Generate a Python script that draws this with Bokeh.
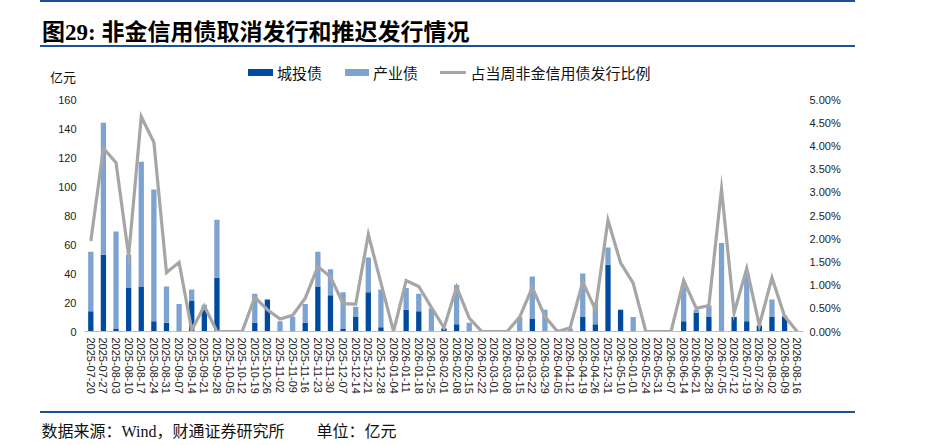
from bokeh.plotting import figure
from bokeh.layouts import column
from bokeh.models import (ColumnDataSource, FactorRange, Range1d, LinearAxis, FixedTicker,
                          NumeralTickFormatter, Div)
from bokeh.embed import file_html
from bokeh.resources import INLINE

# ---------------- data ----------------
dates = [
    "2025-07-20", "2025-07-27", "2025-08-03", "2025-08-10", "2025-08-17", "2025-08-24",
    "2025-08-31", "2025-09-07", "2025-09-14", "2025-09-21", "2025-09-28", "2025-10-05",
    "2025-10-12", "2025-10-19", "2025-10-26", "2025-11-02", "2025-11-09", "2025-11-16",
    "2025-11-23", "2025-11-30", "2025-12-07", "2025-12-14", "2025-12-21", "2025-12-28",
    "2026-01-04", "2026-01-11", "2026-01-18", "2026-01-25", "2026-02-01", "2026-02-08",
    "2026-02-15", "2026-02-22", "2026-03-01", "2026-03-08", "2026-03-15", "2026-03-22",
    "2026-03-29", "2026-04-05", "2026-04-12", "2026-04-19", "2026-04-26", "2025-12-31",
    "2026-05-10", "2026-01-01", "2026-05-24", "2026-05-31", "2026-06-07", "2026-06-14",
    "2026-06-21", "2026-06-28", "2026-07-05", "2026-07-12", "2026-07-19", "2026-07-26",
    "2026-08-02", "2026-08-09", "2026-08-16",
]
# 城投债 (亿元)
urban = [14, 53, 2, 30, 31, 7, 6, 0, 21, 17, 37, 0, 0, 6, 22, 0, 0, 6, 31, 25,
         2, 10, 27, 3, 0, 15, 14, 0, 2, 5, 0, 0, 0, 0, 0, 9, 0, 0, 0, 10,
         5, 46, 15, 0, 0, 0, 0, 7, 13, 10, 0, 10, 7, 4, 10, 10, 0]
# 产业债 (亿元)
industry = [41, 91, 67, 23, 86, 91, 25, 19, 8, 1.5, 40, 0, 0, 20, 0, 7, 10, 13, 24, 18,
            25, 7, 24, 26, 0, 15, 12, 16, 0.5, 27, 6, 0, 0, 0, 10, 29, 15, 0, 2, 30,
            15, 12, 0, 10, 0, 0, 0, 24, 2, 8, 61, 0, 33, 0.5, 12, 1, 0]
# 占当周非金信用债发行比例 (%)
ratio_pct = [1.95, 3.95, 3.64, 1.63, 4.63, 4.08, 1.27, 1.49, 0.03, 0.55, 0.0, 0.0, 0.0,
             0.74, 0.47, 0.27, 0.35, 0.72, 1.40, 1.18, 0.60, 0.59, 2.09, 1.05, 0.0,
             1.10, 0.97, 0.52, 0.08, 0.96, 0.29, 0.0, 0.0, 0.0, 0.31, 0.95, 0.32, 0.0,
             0.08, 1.07, 0.47, 2.40, 1.48, 1.04, 0.0, 0.0, 0.0, 1.10, 0.50, 0.56, 3.07,
             0.40, 1.36, 0.13, 1.16, 0.33, 0.0]
left_ticks = [0, 20, 40, 60, 80, 100, 120, 140, 160]
right_ticks = [0.0, 0.005, 0.01, 0.015, 0.02, 0.025, 0.03, 0.035, 0.04, 0.045, 0.05]

title_prefix = "图"
title_number = "29: "
title_text = "非金信用债取消发行和推迟发行情况"
unit_label = "亿元"
series_names = ["城投债", "产业债", "占当周非金信用债发行比例"]
source_parts = ["数据来源：", "Wind", "，财通证券研究所"]
unit_text = "单位：亿元"

DARK = "#004B9F"
LIGHT = "#7DA3D1"
GREY = "#A6A6A6"
RULE = "#1A4F9C"
CJK = "'Noto Sans CJK SC'"
SERIF = "'Liberation Serif'"
W = 929


def box(left, top, width, height, color):
    return (f'<div style="position:absolute;left:{left}px;top:{top}px;width:{width}px;'
            f'height:{height}px;background:{color};"></div>')


def txt(left, center, size, inner, weight="normal", color="#111111"):
    top = center - size * 0.6
    return (f'<div style="position:absolute;left:{left}px;top:{top:.1f}px;font-family:{CJK};'
            f'font-size:{size}px;line-height:1.2;font-weight:{weight};color:{color};'
            f'white-space:nowrap;">{inner}</div>')


def panel(h, parts):
    html = (f'<div style="position:relative;width:{W}px;height:{h}px;">'
            + "".join(parts) + '</div>')
    return Div(text=html, width=W, height=h, margin=0)


# ---------------- header ----------------
head = panel(90, [
    box(40, 0, 815, 2, RULE),
    txt(42, 30.5, 23, f'{title_prefix}<span style="font-family:{SERIF};">{title_number}</span>{title_text}',
        weight="bold", color="#000000"),
    box(40, 45, 815, 2, RULE),
    txt(50, 76.5, 13, unit_label),
    box(248, 68.5, 24.5, 7.5, DARK),
    txt(277, 72.5, 15, series_names[0]),
    box(344.5, 68.5, 24.5, 7.5, LIGHT),
    txt(373, 72.5, 15, series_names[1]),
    box(440, 71.3, 26, 3, GREY),
    txt(470.5, 72.5, 15, series_names[2]),
])

# ---------------- main chart ----------------
source = ColumnDataSource(dict(x=dates, urban=urban, industry=industry,
                               ratio=[v / 100.0 for v in ratio_pct]))

p = figure(x_range=FactorRange(factors=dates), y_range=Range1d(0, 160),
           width=W, height=318, output_backend="svg", toolbar_location=None,
           min_border_left=84, min_border_right=126, min_border_top=9, min_border_bottom=77)
p.extra_y_ranges = {"pct": Range1d(0, 0.05)}
p.outline_line_color = None
p.xgrid.grid_line_color = None
p.ygrid.grid_line_color = None
p.background_fill_color = "white"
p.border_fill_color = "white"

p.vbar_stack(["urban", "industry"], x="x", width=0.42, fill_color=[DARK, LIGHT],
             line_color=None, source=source)
p.line(x="x", y="ratio", y_range_name="pct", line_color=GREY, line_width=3.2,
       line_join="miter", source=source)

ya = p.left[0]
ya.ticker = FixedTicker(ticks=left_ticks)
ya.axis_line_color = None
ya.major_tick_line_color = None
ya.minor_tick_line_color = None
ya.major_tick_out = 0
ya.major_label_standoff = 8
ya.major_label_text_font = "Liberation Sans"
ya.major_label_text_font_size = "11px"
ya.major_label_text_color = "#222222"

ra = LinearAxis(y_range_name="pct", ticker=FixedTicker(ticks=right_ticks),
                formatter=NumeralTickFormatter(format="0.00%"))
ra.axis_line_color = None
ra.major_tick_line_color = None
ra.minor_tick_line_color = None
ra.major_tick_out = 0
ra.major_label_standoff = 6
ra.major_label_text_font = "Liberation Sans"
ra.major_label_text_font_size = "11px"
ra.major_label_text_color = "#222222"
p.add_layout(ra, "right")

xa = p.below[0]
xa.major_label_orientation = "vertical"
xa.axis_line_color = "#BFBFBF"
xa.major_tick_line_color = None
xa.minor_tick_line_color = None
xa.major_tick_out = 0
xa.major_label_standoff = 6
xa.major_label_text_font = "Liberation Sans"
xa.major_label_text_font_size = "11px"
xa.major_label_text_color = "#222222"

# ---------------- footer ----------------
foot = panel(36, [
    box(40, 2.7, 815, 2, RULE),
    txt(41.5, 23, 16, f'{source_parts[0]}<span style="font-family:{SERIF};">{source_parts[1]}</span>{source_parts[2]}'),
    txt(316.5, 23, 16, unit_text),
])

layout = column(head, p, foot, spacing=0)
open("out.html", "w").write(file_html(layout, INLINE))
